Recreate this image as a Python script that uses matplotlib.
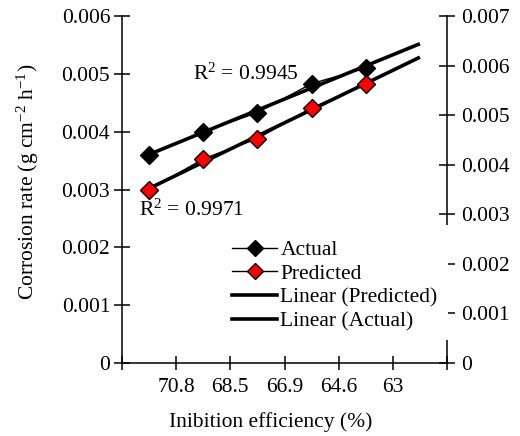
import numpy as np
import matplotlib
matplotlib.use("Agg")
import matplotlib.pyplot as plt
from matplotlib.lines import Line2D
from matplotlib.patches import Rectangle

plt.rcParams['font.family'] = ['Liberation Serif', 'DejaVu Serif']
plt.rcParams['mathtext.fontset'] = 'custom'
plt.rcParams['mathtext.rm'] = 'Liberation Serif'
plt.rcParams['mathtext.it'] = 'Liberation Serif:italic'

categories = ['70.8', '68.5', '66.9', '64.6', '63']
actual = [0.00360, 0.00400, 0.00433, 0.00483, 0.00510]
predicted = [0.00299, 0.00353, 0.00388, 0.00441, 0.00482]
r2_actual = '0.9945'
r2_pred = '0.9971'

W, H = 520, 436
FS = 15.5
fig = plt.figure(figsize=(W / 100, H / 100), dpi=100)

def fx(px):
    return px / W

def fy(py):
    return 1 - py / H

ax = fig.add_axes([fx(122), fy(363), fx(447) - fx(122), fy(16) - fy(363)])
ax2 = ax.twinx()

x = np.arange(len(categories)) + 0.5
ax.plot(x, actual, color='black', lw=1.0, marker='D', ms=9,
        mfc='black', mec='black', zorder=3)
ax.plot(x, predicted, color='black', lw=1.0, marker='D', ms=9,
        mfc='red', mec='black', mew=1.0, zorder=3)

xt = np.array([x[0], x[-1] + 1.0])
for series in (actual, predicted):
    p = np.polyfit(x, series, 1)
    ax.plot(xt, np.polyval(p, xt), color='black', lw=2.6, zorder=2,
            solid_capstyle='butt')

ax.set_xlim(0, 6)
ax.set_ylim(0, 0.006)
ax2.set_ylim(0, 0.007)
ax.set_xticks(np.arange(0, 7))
ax.set_xticklabels([''] + categories + [''])
ax.set_yticks(np.arange(0, 0.0061, 0.001))
ax.set_yticklabels(['0', '0.001', '0.002', '0.003', '0.004', '0.005', '0.006'])
ax2.set_yticks(np.arange(0, 0.0071, 0.001))
ax2.set_yticklabels(['0', '0.001', '0.002', '0.003', '0.004', '0.005', '0.006', '0.007'])

for s in ('top', 'right'):
    ax.spines[s].set_visible(False)
for s in ('top', 'left', 'bottom'):
    ax2.spines[s].set_visible(False)
for a in (ax, ax2):
    for s in a.spines.values():
        s.set_linewidth(1.1)

ax.tick_params(axis='x', direction='inout', length=10, width=1.1, pad=5.5, labelsize=FS)
ax.tick_params(axis='y', direction='inout', length=12, width=1.1, pad=2.5, labelsize=FS)
ax2.tick_params(axis='y', direction='inout', length=11.5, width=1.1, pad=4.5, labelsize=FS)

fig.text(fx(28), fy(182), 'Corrosion rate (g cm$^{-2}$ h$^{-1}$)', rotation=90,
         ha='center', va='center', fontsize=FS)
fig.text(fx(271), fy(422), 'Inibition efficiency (%)', ha='center', va='center', fontsize=FS)

fig.text(fx(193), fy(74), 'R$^2$ = ' + r2_actual, ha='left', va='center', fontsize=FS)
fig.text(fx(139), fy(210), 'R$^2$ = ' + r2_pred, ha='left', va='center', fontsize=FS)

ax2.add_patch(Rectangle((fx(225), fy(340)), fx(448) - fx(225), fy(225) - fy(340),
                        transform=fig.transFigure, facecolor='white',
                        edgecolor='none', zorder=4, clip_on=False))

handles = [
    Line2D([], [], color='black', lw=1.0, marker='D', ms=8, mfc='black', mec='black'),
    Line2D([], [], color='black', lw=1.0, marker='D', ms=8, mfc='red', mec='black'),
    Line2D([], [], color='black', lw=2.6),
    Line2D([], [], color='black', lw=2.6),
]
labels = ['Actual', 'Predicted', 'Linear (Predicted)', 'Linear (Actual)']
leg = ax2.legend(handles, labels, loc='upper left',
                 bbox_to_anchor=(fx(232), fy(240)), bbox_transform=fig.transFigure,
                 frameon=False, borderpad=0, borderaxespad=0, handlelength=2.1,
                 handletextpad=0.15, labelspacing=0.17, fontsize=FS)
leg.set_zorder(5)

fig.savefig('out.png', dpi=100)
